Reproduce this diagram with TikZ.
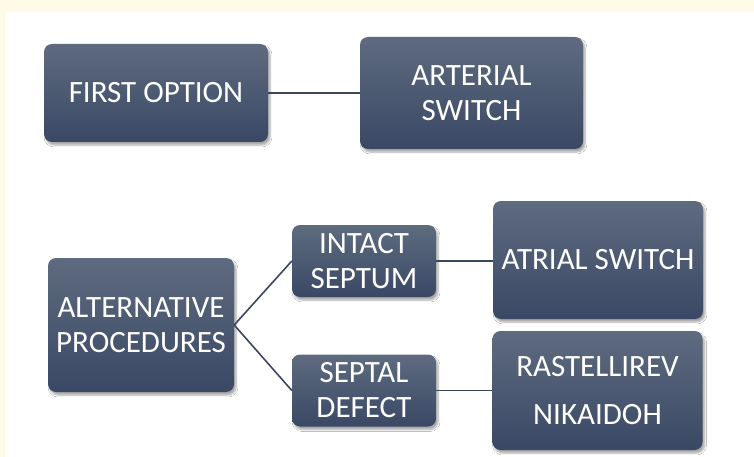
\documentclass[tikz,border=0pt]{standalone}
\usepackage{fontspec}
\setmainfont{Carlito}
\usetikzlibrary{shadows.blur}
\definecolor{cream}{HTML}{FFFBE6}
\definecolor{boxtop}{HTML}{5E6B7F}
\definecolor{boxbot}{HTML}{3A4865}
\definecolor{linec}{HTML}{3A4760}
\tikzset{
  box/.style={rectangle, rounded corners=8pt, top color=boxtop, bottom color=boxbot,
    draw=none, text=white, align=center, inner sep=0pt,
    font=\fontsize{31}{35}\selectfont,
    blur shadow={shadow xshift=2pt, shadow yshift=-3pt, shadow blur steps=6, shadow opacity=35}},
  conn/.style={draw=linec, line width=1.6pt}
}
\begin{document}
\begin{tikzpicture}[x=1pt,y=-1pt]
\fill[cream] (0,0) rectangle (754,457);
\fill[white] (5,12) rectangle (754,457);
\useasboundingbox (0,0) rectangle (754,457);
\node[box, minimum width=224pt, minimum height=98pt] (first) at (156,93) {FIRST OPTION};
\node[box, minimum width=223pt, minimum height=112pt] (art) at (471.5,93) {ARTERIAL\\SWITCH};
\node[box, minimum width=186pt, minimum height=134pt] (alt) at (141,325) {ALTERNATIVE\\PROCEDURES};
\node[box, minimum width=144pt, minimum height=72pt] (intact) at (364,261) {INTACT\\SEPTUM};
\node[box, minimum width=144pt, minimum height=72pt] (septal) at (364,390.5) {SEPTAL\\DEFECT};
\node[box, minimum width=210pt, minimum height=118pt] (atrial) at (598,260) {ATRIAL SWITCH};
\node[box, minimum width=210pt, minimum height=119pt, font=\fontsize{31}{48}\selectfont] (rast) at (597.5,390.5) {RASTELLIREV\\NIKAIDOH};
\draw[conn] (first.east) -- (art.west |- first.east);
\coordinate (j) at (alt.east);
\draw[conn] (j) -- (intact.west);
\draw[conn] (j) -- (septal.west);
\draw[conn] (intact.east) -- (atrial.west |- intact.east);
\draw[conn] (septal.east) -- (rast.west |- septal.east);
\end{tikzpicture}
\end{document}
